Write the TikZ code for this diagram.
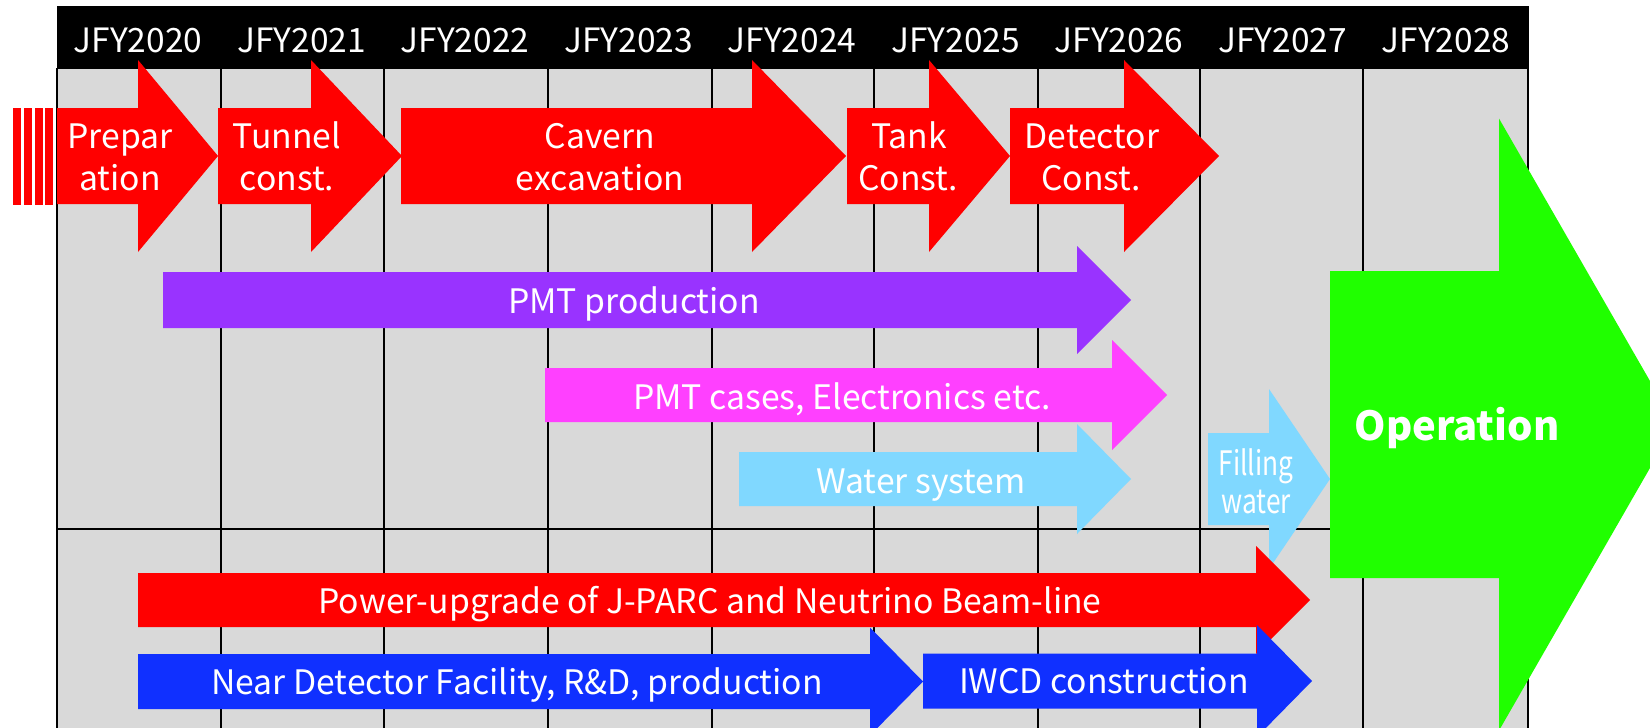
\documentclass[tikz,border=0pt]{standalone}
\usepackage{fontspec}
\usepackage{graphicx}
\setmainfont{Noto Sans CJK JP}

\definecolor{gridgray}{HTML}{D9D9D9}
\definecolor{taskred}{HTML}{FF0000}
\definecolor{pmtpurple}{HTML}{9933FF}
\definecolor{casepink}{HTML}{FF40FF}
\definecolor{waterblue}{HTML}{80D8FF}
\definecolor{opgreen}{HTML}{20FF00}
\definecolor{ndblue}{HTML}{1030FF}

% block arrow: colour, body start, head base, tip, centre y, body half height, head half height
\newcommand\taskarrow[7]{%
  \fill[#1] (#2,#5-#6) -- (#3,#5-#6) -- (#3,#5-#7) -- (#4,#5)
    -- (#3,#5+#7) -- (#3,#5+#6) -- (#2,#5+#6) -- cycle;}

\begin{document}
\begin{tikzpicture}[x=1pt,y=-1pt,
  yearlbl/.style={text=white, inner sep=0, anchor=base, font=\fontsize{33.5}{40}\selectfont},
  tasklbl/.style={text=white, inner sep=0, anchor=base, font=\fontsize{33.7}{40}\selectfont},
  gridline/.style={black, line width=2.2pt}]
\path[use as bounding box] (0,0) rectangle (1650,728);
\clip (0,0) rectangle (1650,728);

% table: header band, grey body, grid lines
\fill[black] (57,6) rectangle (1529,68);
\fill[gridgray] (57,68) rectangle (1528,728);
\foreach \x in {57,221,384,548,712,874,1038,1200,1363,1528}
  \draw[gridline] (\x,68) -- (\x,728);
\draw[gridline] (57,529) -- (1528,529);
\draw[gridline] (57,68) -- (1528,68);

% fiscal years
\foreach \y [count=\i from 0] in {2020,...,2028}
  \node[yearlbl] (fy\y) at ({138+163.5*\i},52) {JFY\y};

% construction sequence
\foreach \x in {13,24,35,45}
  \fill[taskred] (\x,108) rectangle (\x+7.5,205);
\taskarrow{taskred}{57}{138}{218}{156}{48}{96}
\taskarrow{taskred}{218}{311}{402}{156}{48}{96}
\taskarrow{taskred}{401}{752}{846}{156}{48}{96}
\taskarrow{taskred}{847}{929}{1010}{156}{48}{96}
\taskarrow{taskred}{1010}{1124}{1219}{156}{48}{96}
\node[tasklbl] (prepA) at (120,148) {Prepar};
\node[tasklbl] (prepB) at (120,190) {ation};
\node[tasklbl] (tunA) at (287,148) {Tunnel};
\node[tasklbl] (tunB) at (287,190) {const.};
\node[tasklbl] (cavA) at (600,148) {Cavern};
\node[tasklbl] (cavB) at (600,190) {excavation};
\node[tasklbl] (tankA) at (909,148) {Tank};
\node[tasklbl] (tankB) at (908,190) {Const.};
\node[tasklbl] (detA) at (1092,148) {Detector};
\node[tasklbl] (detB) at (1091,190) {Const.};

% photosensors, electronics, water
\taskarrow{pmtpurple}{163}{1077}{1131}{300}{28}{54}
\node[tasklbl] (pmt) at (634,313) {PMT production};
\taskarrow{casepink}{545}{1112}{1167}{395}{27}{55}
\node[tasklbl] (cases) at (842,409) {PMT cases, Electronics etc.};
\taskarrow{waterblue}{739}{1077}{1131}{479}{27}{55}
\node[tasklbl] (water) at (921,493) {Water system};
\taskarrow{waterblue}{1208}{1269}{1330}{479}{46}{90}
\node[tasklbl] (fillA) at (1256,475) {\scalebox{0.78}[1]{Filling}};
\node[tasklbl] (fillB) at (1256,513) {\scalebox{0.78}[1]{water}};

% operation
\taskarrow{opgreen}{1330}{1499}{1675}{424.5}{153.5}{306}
\node[text=white, inner sep=0, anchor=base, font=\fontsize{40}{48}\selectfont\bfseries]
  (oper) at (1457,440) {Operation};

% beam and near detector
\taskarrow{taskred}{138}{1256}{1310}{600}{27}{54}
\node[tasklbl] (beam) at (710,613) {Power-upgrade of J-PARC and Neutrino Beam-line};
\taskarrow{ndblue}{138}{870}{923}{681.5}{27.5}{54}
\node[tasklbl] (nd) at (517,694) {Near Detector Facility, R\&D, production};
\taskarrow{ndblue}{923}{1257}{1312}{681}{27.5}{56}
\node[tasklbl] (iwcd) at (1104,693) {IWCD construction};
\end{tikzpicture}
\end{document}
